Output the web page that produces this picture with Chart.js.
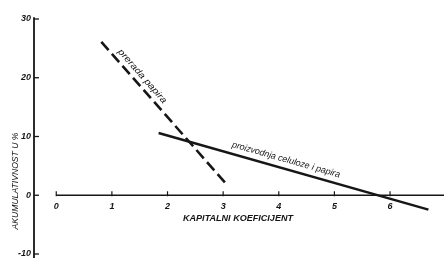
<!DOCTYPE html>
<html>
<head>
<meta charset="utf-8">
<script src="https://cdn.jsdelivr.net/npm/chart.js@4"></script>
<style>
    body { margin: 0; background: #fff; }
    #wrap { width: 444px; height: 258px; position: relative; }
</style>
</head>
<body>
<div id="wrap"><canvas id="chart"></canvas></div>
<script>
// data
const preradaX = [0.81, 3.05];
const preradaY = [26.1, 2.0];
const proizvodnjaX = [1.84, 6.69];
const proizvodnjaY = [10.6, -2.44];
const xTicks = [0, 1, 2, 3, 4, 5, 6];
const yTicks = [-10, 0, 10, 20, 30];
const xTitle = 'KAPITALNI KOEFICIJENT';
const yTitle = 'AKUMULATIVNOST U %';
const preradaLabel = 'prerada papira';
const proizvodnjaLabel = 'proizvodnja celuloze i papira';

const ink = '#161616';
const font = '"Liberation Sans", "DejaVu Sans", sans-serif';

const toPoints = (xs, ys) => xs.map((x, i) => ({ x: x, y: ys[i] }));

// draws the axes, titles and the labels along the lines
const sketch = {
    id: 'sketch',
    afterDraw(chart) {
        const ctx = chart.ctx;
        const xs = chart.scales.x;
        const ys = chart.scales.y;
        const area = chart.chartArea;
        const y0 = ys.getPixelForValue(0);

        ctx.save();
        ctx.strokeStyle = ink;
        ctx.fillStyle = ink;
        ctx.lineCap = 'butt';

        // y axis
        ctx.lineWidth = 1.8;
        ctx.beginPath();
        ctx.moveTo(area.left, ys.getPixelForValue(30.3));
        ctx.lineTo(area.left, area.bottom);
        ctx.stroke();
        ctx.lineWidth = 1.3;
        yTicks.forEach(v => {
            const py = ys.getPixelForValue(v);
            ctx.beginPath();
            ctx.moveTo(area.left, py);
            ctx.lineTo(area.left + 5, py);
            ctx.stroke();
        });

        // x axis, sitting on y = 0
        ctx.lineWidth = 1.6;
        ctx.beginPath();
        ctx.moveTo(xs.getPixelForValue(0), y0);
        ctx.lineTo(area.right, y0);
        ctx.stroke();
        ctx.lineWidth = 1.2;
        ctx.font = 'italic bold 9px ' + font;
        ctx.textAlign = 'center';
        ctx.textBaseline = 'middle';
        xTicks.forEach(v => {
            const px = xs.getPixelForValue(v);
            ctx.beginPath();
            ctx.moveTo(px, y0 - 4);
            ctx.lineTo(px, y0 + 1);
            ctx.stroke();
            ctx.fillText(String(v), px, y0 + 11);
        });

        // axis titles
        fitText(ctx, xTitle, 238, 219, 0, 110);
        ctx.font = 'italic 9px ' + font;
        fitText(ctx, yTitle, 15, 181, -Math.PI / 2, 97);

        // labels along the lines
        lineLabel(ctx, xs, ys, preradaX, preradaY, preradaLabel, 0.28, 8, 69);
        lineLabel(ctx, xs, ys, proizvodnjaX, proizvodnjaY, proizvodnjaLabel, 0.463, 9, 112);
        ctx.restore();
    }
};

function fitText(ctx, text, x, y, angle, width) {
    const w = ctx.measureText(text).width;
    ctx.save();
    ctx.translate(x, y);
    ctx.rotate(angle);
    ctx.scale(width / w, 1);
    ctx.fillText(text, 0, 0);
    ctx.restore();
}

function lineLabel(ctx, xs, ys, lx, ly, text, t, offset, width) {
    const ax = xs.getPixelForValue(lx[0]), ay = ys.getPixelForValue(ly[0]);
    const bx = xs.getPixelForValue(lx[1]), by = ys.getPixelForValue(ly[1]);
    const len = Math.hypot(bx - ax, by - ay);
    const dx = (bx - ax) / len, dy = (by - ay) / len;
    const cx = ax + dx * len * t + dy * offset;
    const cy = ay + dy * len * t - dx * offset;
    fitText(ctx, text, cx, cy, Math.atan2(dy, dx), width);
}

new Chart(document.querySelector('#chart'), {
    type: 'scatter',
    data: {
        datasets: [
            {
                label: preradaLabel,
                data: toPoints(preradaX, preradaY),
                showLine: true,
                borderColor: ink,
                borderWidth: 2.6,
                borderDash: [11, 5],
                pointRadius: 0
            },
            {
                label: proizvodnjaLabel,
                data: toPoints(proizvodnjaX, proizvodnjaY),
                showLine: true,
                borderColor: ink,
                borderWidth: 2.4,
                pointRadius: 0
            }
        ]
    },
    options: {
        responsive: true,
        maintainAspectRatio: false,
        animation: false,
        layout: { autoPadding: false, padding: { top: 17, left: 0, right: 0, bottom: 0 } },
        plugins: {
            legend: { display: false },
            tooltip: { enabled: false }
        },
        scales: {
            x: {
                type: 'linear',
                display: false,
                min: -0.4,
                max: 6.97
            },
            y: {
                type: 'linear',
                min: -10.68,
                max: 30.34,
                afterBuildTicks: scale => { scale.ticks = yTicks.map(v => ({ value: v })); },
                afterFit: scale => {
                    scale.width = 34;
                    scale.paddingTop = 0;
                    scale.paddingBottom = 0;
                },
                grid: { display: false, drawTicks: false },
                border: { display: false },
                ticks: {
                    padding: 3,
                    color: ink,
                    font: { family: font, size: 9, style: 'italic', weight: 'bold' }
                }
            }
        }
    },
    plugins: [sketch]
});
</script>
</body>
</html>
